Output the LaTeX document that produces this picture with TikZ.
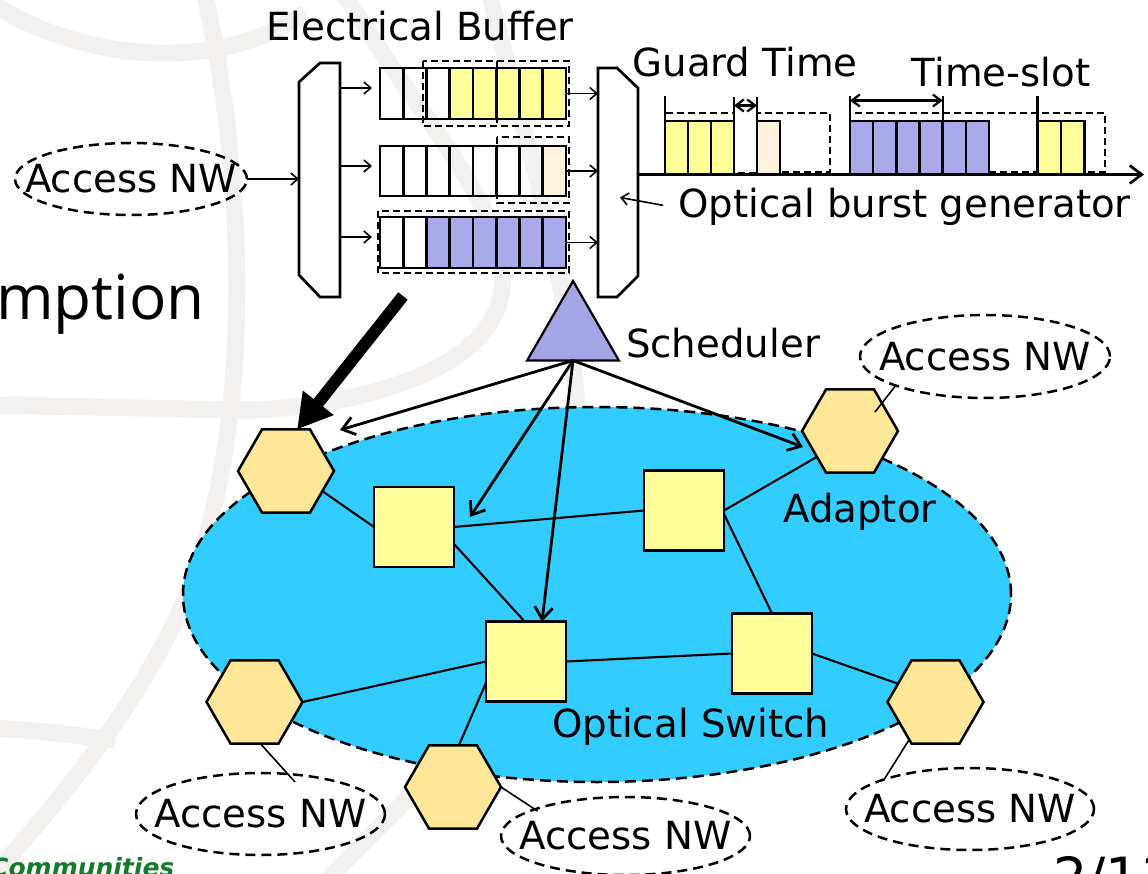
\documentclass[tikz,border=0pt]{standalone}
\usepackage{fontspec}
\setmainfont{DejaVu Sans}
\newfontfamily\slidefont{Open Sans}
\usetikzlibrary{shapes.geometric,arrows.meta,calc}

\definecolor{netblue}{HTML}{33CCFF}
\definecolor{swyellow}{HTML}{FFFF99}
\definecolor{adapt}{HTML}{FFE799}
\definecolor{lav}{HTML}{AAAAEA}
\definecolor{schedlav}{HTML}{A4A4E6}
\definecolor{peach}{HTML}{FFF2DC}
\definecolor{wm}{HTML}{F2F1EF}
\definecolor{slidegreen}{HTML}{137B2B}

\tikzset{
  lbl/.style={font=\fontsize{38.7}{46}\selectfont, inner sep=0, outer sep=0},
  wmark/.style={draw=wm, line width=17},
  hexa/.style={regular polygon, regular polygon sides=6, minimum size=96,
    inner sep=0, outer sep=0, draw, line width=2.5, fill=adapt},
  switchbox/.style={rectangle, minimum size=80, inner sep=0, outer sep=0,
    draw, line width=2.7, fill=swyellow},
  accessnw/.style={ellipse, draw, dash pattern=on 10pt off 6pt, line width=2.5,
    inner sep=0, outer sep=0, label={[lbl]center:Access NW}},
  netcloud/.style={ellipse, draw, fill=netblue, dash pattern=on 11pt off 6pt,
    line width=2.5, inner sep=0, outer sep=0},
  link/.style={line width=2.1},
  thinlink/.style={line width=1.6},
  schedarrow/.style={line width=2.8, -{Straight Barb[length=12pt,width=18pt]}},
  thinarrow/.style={line width=1.6, -{Straight Barb[length=7pt,width=12pt]}},
  spanarrow/.style={line width=2.2, {Straight Barb[length=8pt,width=12pt]}-{Straight Barb[length=8pt,width=12pt]}},
  bufrow/.style={rectangle, draw, line width=2.7, minimum width=186,
    inner sep=0, outer sep=0},
  bufdash/.style={line width=2.7, dash pattern=on 7pt off 4pt},
  tdash/.style={line width=2.2, dash pattern=on 7pt off 4pt},
  block/.style={line width=2.4},
  frame/.style={line width=2.7, fill=white},
  anchorbox/.style={inner sep=0, outer sep=0},
}

\begin{document}
\begin{tikzpicture}[x=1pt,y=-1pt]
\useasboundingbox (0,0) rectangle (1148,874);
\clip (0,0) rectangle (1148,874);

% faint slide watermark
\draw[wmark] (-5,5) .. controls (80,60) and (220,75) .. (305,12);
\draw[wmark] (205,-5) .. controls (250,200) and (252,450) .. (180,610)
  .. controls (135,710) and (60,800) .. (-15,885);
\draw[wmark] (345,-5) .. controls (420,120) and (520,220) .. (500,300)
  .. controls (480,380) and (330,410) .. (240,410) -- (-10,405);
\draw[wmark] (490,-5) .. controls (520,120) and (570,280) .. (578,420);
\draw[wmark] (-10,728) .. controls (40,730) and (80,736) .. (115,740);
\draw[wmark] (500,705) -- (320,887);

% slide text around the figure
\node[anchor=base west, inner sep=0, font=\slidefont\fontsize{62}{70}\selectfont] at (-4,320) {mption};
\node[anchor=base west, inner sep=0, text=slidegreen, font=\bfseries\itshape\fontsize{25}{30}\selectfont] at (-10,876) {Communities};
\node[anchor=base west, inner sep=0, font=\fontsize{54}{60}\selectfont] at (1053,896) {2/11};

% optical network domain
\node[netcloud, minimum width=828, minimum height=375] (net) at (597,594.5) {};

% adaptors and optical switches
\node[hexa] (h1) at (286,471) {};
\node[hexa] (h2) at (850,431) {};
\node[hexa] (h3) at (254.5,702) {};
\node[hexa] (h4) at (453,787) {};
\node[hexa] (h5) at (935.5,702) {};
\node[switchbox] (s1) at (414,527) {};
\node[switchbox] (s2) at (684,510.5) {};
\node[switchbox] (s3) at (526,661.5) {};
\node[switchbox] (s4) at (772,653.5) {};

\draw[link] (h1.-29) -- (s1.west);
\draw[link] (s1.east) -- (s2.west);
\draw[link] (s1.-23) -- (s3.92);
\draw[link] (s2.east) -- (h2.218);
\draw[link] (s2.-5) -- (s4.north);
\draw[link] (s3.west) -- (h3.east);
\draw[link] (s3.208) -- (h4.82);
\draw[link] (s3.east) -- (s4.west);
\draw[link] (s4.east) -- (h5.154);

\node[lbl, anchor=base] at (860,522) {Adaptor};
\node[lbl, anchor=base] at (690.5,737) {Optical Switch};

% access networks
\node[accessnw, minimum width=232, minimum height=72] (a1) at (131,179) {};
\node[accessnw, minimum width=250, minimum height=83] (a2) at (985,356.5) {};
\node[accessnw, minimum width=249, minimum height=82] (a3) at (260.5,814) {};
\node[accessnw, minimum width=249, minimum height=78] (a4) at (625.5,836) {};
\node[accessnw, minimum width=248, minimum height=82] (a5) at (970,809) {};

\draw[thinlink] (a2.198) -- ($(h2.center)+(25,-19)$);
\draw[thinlink] (h3.-82) -- ($(a3.center)+(34.5,-32)$);
\draw[thinlink] (h4.east) -- ($(a4.center)+(-88,-25)$);
\draw[thinlink] (h5.235.5) -- (a5.161);

% scheduler
\node[regular polygon, regular polygon sides=3, minimum size=106, fill=schedlav,
  draw, line width=2.2, inner sep=0, outer sep=0] (sch) at (573,334) {};
\node[lbl, anchor=base] at (723,357) {Scheduler};
\draw[schedarrow] (sch.south) -- ($(h1.center)+(54,-41)$);
\draw[schedarrow] (sch.south) -- ($(s1.east)+(16,-10)$);
\draw[schedarrow] (sch.south) -- ($(s3.north)+(16,0)$);
\draw[schedarrow] (sch.south) -- ($(h2.center)+(-47,16)$);

% pointer from the edge node to its detail
\coordinate (bigtail) at (403,296);
\draw[line width=12, -{Triangle[length=34pt,width=37pt]}] (bigtail) -- (h1.75);

% electrical buffer: demultiplexer, queues, multiplexer
\node[anchorbox, minimum width=41, minimum height=234] (dmx) at (319.5,180) {};
\draw[frame] ($(dmx.north west)+(21,0)$) -- (dmx.north east) -- (dmx.south east)
  -- ($(dmx.south west)+(21,0)$) -- ($(dmx.south west)+(0,-22)$)
  -- ($(dmx.north west)+(0,19)$) -- cycle;
\node[anchorbox, minimum width=40, minimum height=229] (mx) at (618,182.5) {};
\draw[frame] (mx.north west) -- ($(mx.north east)+(-21,0)$) -- ($(mx.north east)+(0,20)$)
  -- ($(mx.south east)+(0,-21)$) -- ($(mx.south east)+(-21,0)$) -- (mx.south west) -- cycle;

\fill[swyellow] (449.75,68) rectangle (566,119);
\fill[peach] (542.75,146) rectangle (566,196);
\fill[lav] (426.5,217) rectangle (566,268);
\node[bufrow, minimum height=51] (b1) at (473,93.5) {};
\node[bufrow, minimum height=50] (b2) at (473,171) {};
\node[bufrow, minimum height=51] (b3) at (473,242.5) {};
\foreach \k in {1,...,7} {
  \draw[line width=2.7] ({380+23.25*\k},68) -- ({380+23.25*\k},119);
  \draw[line width=2.7] ({380+23.25*\k},146) -- ({380+23.25*\k},196);
  \draw[line width=2.7] ({380+23.25*\k},217) -- ({380+23.25*\k},268);
}
\draw[bufdash] (423,61) rectangle (569,126);
\draw[bufdash] (497,61) -- (497,126);
\draw[bufdash] (497,137) rectangle (569,203);
\draw[bufdash] (378,211) rectangle (569,273);

\node[lbl, anchor=base] at (420,41) {Electrical Buffer};

\draw[thinarrow] (a1.east) -- (dmx.west |- a1.east);
\coordinate (b1in) at ($(b1.west)+(-8,-5.5)$);
\coordinate (b2in) at ($(b2.west)+(-8,-5)$);
\coordinate (b3in) at ($(b3.west)+(-8,-5.5)$);
\draw[thinarrow] (dmx.east |- b1in) -- (b1in);
\draw[thinarrow] (dmx.east |- b2in) -- (b2in);
\draw[thinarrow] (dmx.east |- b3in) -- (b3in);
\draw[thinarrow] (b1.east) -- (mx.west |- b1.east);
\draw[thinarrow] (b2.east) -- (mx.west |- b2.east);
\draw[thinarrow] (b3.east) -- (mx.west |- b3.east);

% optical burst train on the output time axis
\draw[tdash] (665,113) rectangle (830,172);
\draw[tdash] (850,113) rectangle (1105,172);
\filldraw[block, fill=swyellow] (665,121) rectangle (734,174.5);
\draw[block] (688,121) -- (688,174.5) (711,121) -- (711,174.5);
\filldraw[block, fill=peach] (757,121) rectangle (780,174.5);
\filldraw[block, fill=lav] (850,121) rectangle (989,174.5);
\foreach \k in {1,...,5} \draw[block] ({850+23.17*\k},121) -- ({850+23.17*\k},174.5);
\filldraw[block, fill=swyellow] (1037.5,121) rectangle (1084.5,174.5);
\draw[block] (1061,121) -- (1061,174.5);
\fill[white] (735.3,100) rectangle (755.7,172);
\draw[block] (734,97) -- (734,174.5) (757,97) -- (757,174.5);
\draw[block] (665,96) -- (665,121) (850,96) -- (850,121)
  (942.7,96) -- (942.7,121) (1037.5,96) -- (1037.5,121);
\draw[spanarrow] (734,105.5) -- (757,105.5);
\draw[spanarrow] (850,100.5) -- (942.7,100.5);

\coordinate (axisend) at (1144,174.5);
\draw[line width=2.7, -{Straight Barb[length=12pt,width=18pt]}] (mx.east |- axisend) -- (axisend);

\node[lbl, anchor=base] at (745,77) {Guard Time};
\node[lbl, anchor=base] at (1001,87) {Time-slot};
\node[lbl, anchor=base] (gen) at (904.5,218) {Optical burst generator};
\draw[thinarrow] ($(gen.west)+(-15,-2)$) -- ($(mx.center)+(2,15)$);
\end{tikzpicture}
\end{document}
